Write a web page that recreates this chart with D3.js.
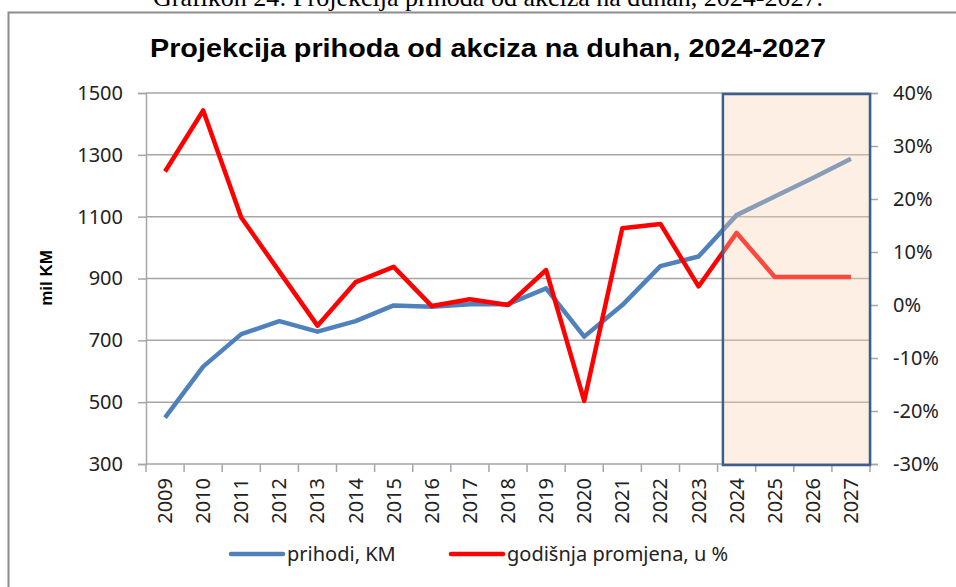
<!DOCTYPE html>
<html>
<head>
<meta charset="utf-8">
<script src="https://cdn.jsdelivr.net/npm/d3@7"></script>
<style>
	html, body { margin: 0; padding: 0; background: #fff; }
	svg { display: block; }
</style>
</head>
<body>
<div id="chart"></div>
<script>
'use strict';

// data
const years = ["2009", "2010", "2011", "2012", "2013", "2014", "2015", "2016", "2017", "2018",
	"2019", "2020", "2021", "2022", "2023", "2024", "2025", "2026", "2027"];
const prihodi = [450, 615, 720, 762, 728, 762, 813, 809, 817, 817,
	868, 712, 814, 940, 971, 1105, 1165, 1225, 1287];
const promjena = [0.252, 0.367, 0.165, 0.063, -0.039, 0.043, 0.072, -0.002, 0.011, 0.0,
	0.066, -0.181, 0.145, 0.153, 0.035, 0.136, 0.053, 0.053, 0.053];
const projectionYears = ["2024", "2027"];
const leftTicks = [300, 500, 700, 900, 1100, 1300, 1500];
const rightTicks = [-0.3, -0.2, -0.1, 0, 0.1, 0.2, 0.3, 0.4];
const legendLabels = ["prihodi, KM", "godišnja promjena, u %"];

const WIDTH = 956;
const HEIGHT = 587;
const PLOT = { left: 146, right: 870, top: 93, bottom: 464 };
const LABEL_FONT = "Noto Sans, Lato, sans-serif";
const LABEL_SIZE = 20;
const BLUE = "#4F81BD";
const RED = "#FF0000";
const GRID = "#A6A6A6";

const svg = d3.select("#chart").append("svg")
	.attr("width", WIDTH)
	.attr("height", HEIGHT);

// outer chart frame and the caption above it (cut off by the crop, as in the original)
svg.append("text")
	.attr("x", 488)
	.attr("y", 6)
	.attr("text-anchor", "middle")
	.attr("font-family", "Liberation Serif, serif")
	.attr("font-size", 26)
	.attr("fill", "#000")
	.text("Grafikon 24: Projekcija prihoda od akciza na duhan, 2024-2027.");

svg.append("rect")
	.attr("x", 8.5)
	.attr("y", 12.5)
	.attr("width", WIDTH + 20)
	.attr("height", HEIGHT + 20)
	.attr("fill", "none")
	.attr("stroke", "#8C8C8C")
	.attr("stroke-width", 2);

svg.append("text")
	.attr("x", 488)
	.attr("y", 57)
	.attr("text-anchor", "middle")
	.attr("font-family", "Liberation Sans, Arial, sans-serif")
	.attr("font-weight", "bold")
	.attr("font-size", 25)
	.attr("textLength", 676)
	.attr("lengthAdjust", "spacingAndGlyphs")
	.attr("fill", "#000")
	.text("Projekcija prihoda od akciza na duhan, 2024-2027");

const x = d3.scaleBand()
	.domain(years)
	.range([PLOT.left, PLOT.right])
	.padding(0);
const yL = d3.scaleLinear()
	.domain([300, 1500])
	.range([PLOT.bottom, PLOT.top]);
const yR = d3.scaleLinear()
	.domain([-0.3, 0.4])
	.range([PLOT.bottom, PLOT.top]);
const cx = d => x(d) + x.bandwidth() / 2;

// horizontal grid
svg.append("g")
	.selectAll("line")
	.data(leftTicks.slice(1))
	.join("line")
		.attr("x1", PLOT.left)
		.attr("x2", PLOT.right)
		.attr("y1", d => yL(d))
		.attr("y2", d => yL(d))
		.attr("stroke", GRID)
		.attr("stroke-width", 1.5);

// left axis
const axisL = svg.append("g")
	.attr("transform", `translate(${PLOT.left},0)`)
	.call(d3.axisLeft(yL).tickValues(leftTicks).tickSize(8).tickPadding(15).tickFormat(d3.format("d")));
axisL.select(".domain").attr("stroke", GRID).attr("stroke-width", 1.5);
axisL.selectAll(".tick line").attr("stroke", GRID).attr("stroke-width", 1.5);
axisL.selectAll(".tick text")
	.attr("font-family", LABEL_FONT)
	.attr("font-size", LABEL_SIZE)
	.attr("fill", "#222");

// right axis
const axisR = svg.append("g")
	.attr("transform", `translate(${PLOT.right},0)`)
	.call(d3.axisRight(yR).tickValues(rightTicks).tickSize(8).tickPadding(15).tickFormat(d3.format(".0%")));
axisR.select(".domain").attr("stroke", GRID).attr("stroke-width", 1.5);
axisR.selectAll(".tick line").attr("stroke", GRID).attr("stroke-width", 1.5);
axisR.selectAll(".tick text")
	.attr("font-family", LABEL_FONT)
	.attr("font-size", LABEL_SIZE)
	.attr("fill", "#222")
	.text(d => d3.format(".0%")(d).replace("−", "-"));

// bottom axis, ticks between categories
const axisB = svg.append("g")
	.attr("transform", `translate(0,${PLOT.bottom})`);
axisB.append("line")
	.attr("x1", PLOT.left)
	.attr("x2", PLOT.right)
	.attr("stroke", GRID)
	.attr("stroke-width", 1.5);
axisB.selectAll("line.tick")
	.data(years.concat(["end"]))
	.join("line")
		.attr("class", "tick")
		.attr("x1", (d, i) => PLOT.left + i * x.bandwidth())
		.attr("x2", (d, i) => PLOT.left + i * x.bandwidth())
		.attr("y1", 0)
		.attr("y2", 8)
		.attr("stroke", GRID)
		.attr("stroke-width", 1.5);
axisB.selectAll("text")
	.data(years)
	.join("text")
		.attr("transform", d => `translate(${cx(d) + 7},14) rotate(-90)`)
		.attr("text-anchor", "end")
		.attr("font-family", LABEL_FONT)
		.attr("font-size", LABEL_SIZE)
		.attr("fill", "#222")
		.text(d => d);

// axis title
svg.append("text")
	.attr("transform", "translate(52,278) rotate(-90)")
	.attr("text-anchor", "middle")
	.attr("font-family", "Liberation Sans, Arial, sans-serif")
	.attr("font-weight", "bold")
	.attr("font-size", 17)
	.attr("fill", "#000")
	.text("mil KM");

// series
const lineL = d3.line()
	.x((d, i) => cx(years[i]))
	.y(d => yL(d));
const lineR = d3.line()
	.x((d, i) => cx(years[i]))
	.y(d => yR(d));

svg.append("path")
	.datum(prihodi)
	.attr("d", lineL)
	.attr("fill", "none")
	.attr("stroke", BLUE)
	.attr("stroke-width", 4.5)
	.attr("stroke-linejoin", "round");

svg.append("path")
	.datum(promjena)
	.attr("d", lineR)
	.attr("fill", "none")
	.attr("stroke", RED)
	.attr("stroke-width", 4.5)
	.attr("stroke-linejoin", "round");

// projection box, translucent over the lines
const boxX0 = x(projectionYears[0]) + x.bandwidth() * 0.14;
const boxX1 = x(projectionYears[1]) + x.bandwidth();
svg.append("rect")
	.attr("x", boxX0)
	.attr("y", PLOT.top + 1)
	.attr("width", boxX1 - boxX0)
	.attr("height", PLOT.bottom - PLOT.top)
	.attr("fill", "#F9D1AF")
	.attr("fill-opacity", 0.35)
	.attr("stroke", "#3B5E8C")
	.attr("stroke-width", 2.5);

// legend
const legend = svg.append("g");
const legendItems = [
	{ label: legendLabels[0], color: BLUE, x: 231 },
	{ label: legendLabels[1], color: RED, x: 451 }
];
legendItems.forEach(item => {
	legend.append("line")
		.attr("x1", item.x)
		.attr("x2", item.x + 52)
		.attr("y1", 554)
		.attr("y2", 554)
		.attr("stroke", item.color)
		.attr("stroke-width", 4.5)
		.attr("stroke-linecap", "round");
	legend.append("text")
		.attr("x", item.x + 56)
		.attr("y", 561)
		.attr("font-family", LABEL_FONT)
		.attr("font-size", LABEL_SIZE)
		.attr("fill", "#222")
		.text(item.label);
});
</script>
</body>
</html>
